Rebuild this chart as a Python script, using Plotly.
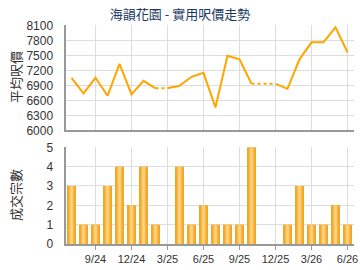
import plotly.graph_objects as go

months = ["7/24","8/24","9/24","10/24","11/24","12/24","1/25","2/25","3/25","4/25","5/25","6/25",
          "7/25","8/25","9/25","10/25","11/25","12/25","1/26","2/26","3/26","4/26","5/26","6/26"]
prices = [7050, 6740, 7050, 6690, 7330, 6720, 6990, 6840, None, 6890, 7070, 7150,
          6460, 7490, 7420, 6930, None, None, 6830, 7420, 7760, 7760, 8060, 7560]
counts = [3, 1, 1, 3, 4, 2, 4, 1, 0, 4, 1, 2, 1, 1, 1, 5, 0, 0, 1, 3, 1, 1, 2, 1]
tick_labels = ["9/24", "12/24", "3/25", "6/25", "9/25", "12/25", "3/26", "6/26"]
price_ticks = [6000, 6300, 6600, 6900, 7200, 7500, 7800, 8100]
count_ticks = [0, 1, 2, 3, 4, 5]

idx = list(range(len(months)))
tick_idx = [months.index(t) for t in tick_labels]

# carry forward missing values: dotted flat segment, then solid from last gap month
carried = []
last = None
for p in prices:
    if p is not None:
        last = p
    carried.append(last)

solid_x, solid_y, dot_x, dot_y = [], [], [], []
for i in idx:
    if prices[i] is None:
        dot_x += [i - 1, i, None]
        dot_y += [carried[i - 1], carried[i], None]
        if i + 1 < len(prices) and prices[i + 1] is not None:
            solid_x += [None, i]
            solid_y += [None, carried[i]]
    else:
        solid_x.append(i)
        solid_y.append(prices[i])

ORANGE = "#FFA500"
fig = go.Figure()
fig.add_trace(go.Scatter(x=dot_x, y=dot_y, mode="lines", line=dict(color=ORANGE, width=2, dash="dot"),
                         xaxis="x", yaxis="y", connectgaps=False, hoverinfo="skip"))
fig.add_trace(go.Scatter(x=solid_x, y=solid_y, mode="lines", line=dict(color=ORANGE, width=2),
                         xaxis="x", yaxis="y", connectgaps=False))

for w, c in [(0.74, "#EFA11E"), (0.5, "#F8B845"), (0.22, "#FFD27C")]:
    fig.add_trace(go.Bar(x=idx, y=counts, width=w, marker=dict(color=c, line=dict(width=0)),
                         xaxis="x2", yaxis="y2"))

xdom = [65.5 / 360, 353.5 / 360]
grid = "#DDDDDD"
axline = "#999999"
tickfont = dict(family="Liberation Sans, Arial", size=11, color="#333333")
ytickfont = dict(family="Liberation Sans, Arial", size=12, color="#333333")

fig.update_layout(
    width=360, height=270, margin=dict(l=0, r=0, t=0, b=0),
    paper_bgcolor="white", plot_bgcolor="white", showlegend=False, barmode="overlay",
    xaxis=dict(domain=xdom, range=[-0.5, 23.5], tickvals=tick_idx, showticklabels=False,
               showgrid=True, gridcolor=grid, zeroline=False, showline=True, linecolor=axline,
               linewidth=2, anchor="y", automargin=False),
    yaxis=dict(domain=[1 - 130.3 / 270, 1 - 25.3 / 270], range=[6000, 8100], tickvals=price_ticks,
               showgrid=True, gridcolor=grid, zeroline=False, showline=True, linecolor=axline,
               linewidth=2, tickfont=ytickfont, ticklabelstandoff=8,
               anchor="x", automargin=False),
    xaxis2=dict(domain=xdom, range=[-0.5, 23.5], tickvals=tick_idx, ticktext=tick_labels,
                showgrid=True, gridcolor=grid, zeroline=False, showline=True, linecolor=axline,
                linewidth=2, ticks="outside", ticklen=4, tickcolor=axline, tickfont=tickfont,
                anchor="y2", automargin=False),
    yaxis2=dict(domain=[1 - 244 / 270, 1 - 147.3 / 270], range=[0, 5], tickvals=count_ticks,
                showgrid=True, gridcolor=grid, zeroline=False, showline=True, linecolor=axline,
                linewidth=2, tickfont=ytickfont, ticklabelstandoff=8,
                anchor="x2", automargin=False),
    title=dict(text="海韻花園 - 實用呎價走勢", x=0.5, xanchor="center", y=1 - 14 / 270, yanchor="middle",
               font=dict(family="Noto Sans CJK TC", size=13, color="#1B3A66")),
    annotations=[
        dict(text="平均呎價", x=15 / 360, y=1 - 77 / 270, xref="paper", yref="paper", showarrow=False,
             xanchor="center", yanchor="middle", textangle=-90,
             font=dict(family="Noto Sans CJK TC", size=13, color="#333333")),
        dict(text="成交宗數", x=15 / 360, y=1 - 195 / 270, xref="paper", yref="paper", showarrow=False,
             xanchor="center", yanchor="middle", textangle=-90,
             font=dict(family="Noto Sans CJK TC", size=13, color="#333333")),
    ],
)

fig.write_html("out.html")
